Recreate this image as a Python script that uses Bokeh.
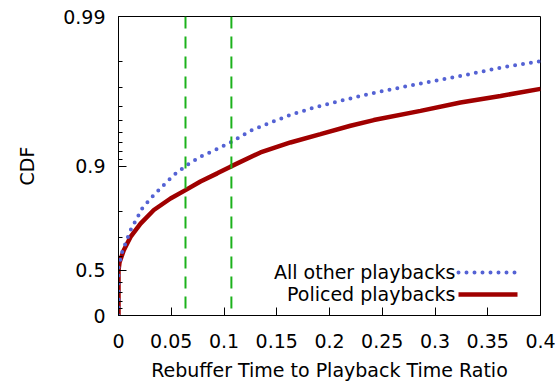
import numpy as np
from bokeh.plotting import figure
from bokeh.models import FixedTicker, Span, Label
from bokeh.embed import file_html
from bokeh.resources import INLINE

# ---- data ----
x_other = [0, 0, 0.0035, 0.0114, 0.0225, 0.0319, 0.0429, 0.0524, 0.0651, 0.0777,
           0.0936, 0.1062, 0.1251, 0.1441, 0.163, 0.1851, 0.2073, 0.2325, 0.2547,
           0.2863, 0.3242, 0.3621, 0.4]
cdf_other = [0, 0.526, 0.624, 0.731, 0.808, 0.839, 0.866, 0.885, 0.9015, 0.9134,
             0.923, 0.9305, 0.9419, 0.9488, 0.9545, 0.9593, 0.9629, 0.9664, 0.9689,
             0.9719, 0.975, 0.978, 0.9801]

x_policed = [0, 0, 0.001, 0.005, 0.0114, 0.0209, 0.0335, 0.0493, 0.0635, 0.0777,
             0.0936, 0.1062, 0.1346, 0.163, 0.1915, 0.2199, 0.242, 0.2863, 0.3242,
             0.3621, 0.4]
cdf_policed = [0, 0.5, 0.56, 0.634, 0.702, 0.757, 0.803, 0.835, 0.855, 0.873,
               0.888, 0.899, 0.9188, 0.9304, 0.9388, 0.9462, 0.9507, 0.9572, 0.9624,
               0.966, 0.9695]

vlines_x = [0.0635, 0.107]

y_major = [0, 0.5, 0.9, 0.99]
y_major_labels = ["0", "0.5", "0.9", "0.99"]
y_minor = [0.1, 0.2, 0.3, 0.4, 0.6, 0.7, 0.8,
           0.91, 0.92, 0.93, 0.94, 0.95, 0.96, 0.97, 0.98]
x_ticks = [0, 0.05, 0.1, 0.15, 0.2, 0.25, 0.3, 0.35, 0.4]
x_tick_labels = ["0", "0.05", "0.1", "0.15", "0.2", "0.25", "0.3", "0.35", "0.4"]

labels = ["All other playbacks", "Policed playbacks"]


def tf(c):
    return -np.log10(1.0 - np.asarray(c, dtype=float))


FONT = "DejaVu Sans"
FS = "19px"
BLUE = "#5462d4"
RED = "#a00000"
GREEN = "#1cb21c"

p = figure(width=557, height=383, output_backend="svg", toolbar_location=None,
           x_range=(0, 0.4), y_range=(0, 2),
           min_border_left=118, min_border_right=17, min_border_top=16,
           min_border_bottom=68)
p.grid.visible = False
p.outline_line_color = "black"
p.outline_line_width = 1
p.background_fill_color = "white"
p.border_fill_color = "white"

# vertical dashed lines
for xv in vlines_x:
    p.add_layout(Span(location=xv, dimension="height", line_color=GREEN,
                      line_width=2, line_dash="12 8"))

# curves
p.line(x_policed, tf(cdf_policed), line_color=RED, line_width=4.5)
p.line(x_other, tf(cdf_other), line_color=BLUE, line_width=4,
       line_dash="0 8", line_cap="round")

# axes
yt = [float(v) for v in tf(y_major)]
p.yaxis.ticker = FixedTicker(ticks=yt, minor_ticks=[float(v) for v in tf(y_minor)])
p.yaxis.major_label_overrides = {k: s for k, s in zip(yt, y_major_labels)}
p.xaxis.ticker = FixedTicker(ticks=x_ticks)
p.xaxis.major_label_overrides = {k: s for k, s in zip(x_ticks, x_tick_labels)}

for ax in (p.xaxis[0], p.yaxis[0]):
    ax.axis_line_color = "black"
    ax.major_tick_line_color = "black"
    ax.major_tick_in = 8
    ax.major_tick_out = 0
    ax.minor_tick_in = 4
    ax.minor_tick_out = 0
    ax.major_label_text_font = FONT
    ax.major_label_text_font_size = FS
    ax.major_label_text_color = "black"
    ax.axis_label_text_font = FONT
    ax.axis_label_text_font_size = FS
    ax.axis_label_text_font_style = "normal"
    ax.axis_label_text_color = "black"

p.xaxis.minor_tick_line_color = None
p.xaxis.major_label_standoff = 18
p.yaxis.major_label_standoff = 13
p.xaxis.axis_label = "Rebuffer Time to Playback Time Ratio"
p.yaxis.axis_label = "CDF"
p.xaxis.axis_label_standoff = 8
p.yaxis.axis_label_standoff = 22

# legend (text right-aligned, sample lines to the right), frame-relative px
p.add_layout(Label(x=337, y=44, x_units="screen", y_units="screen",
                   text=labels[0], text_align="right", text_baseline="middle",
                   text_font=FONT, text_font_size=FS, text_color="black"))
p.add_layout(Label(x=337, y=22, x_units="screen", y_units="screen",
                   text=labels[1], text_align="right", text_baseline="middle",
                   text_font=FONT, text_font_size=FS, text_color="black"))
lx0 = 0.4 * (458 - 118) / 422
lx1 = 0.4 * (517 - 118) / 422
p.line([lx0, lx1], [2 * (315 - 272) / 299] * 2, line_color=BLUE, line_width=4,
       line_dash="0 8", line_cap="round")
p.line([lx0, lx1], [2 * (315 - 294) / 299] * 2, line_color=RED, line_width=4.5)

open("out.html", "w").write(file_html(p, INLINE))
